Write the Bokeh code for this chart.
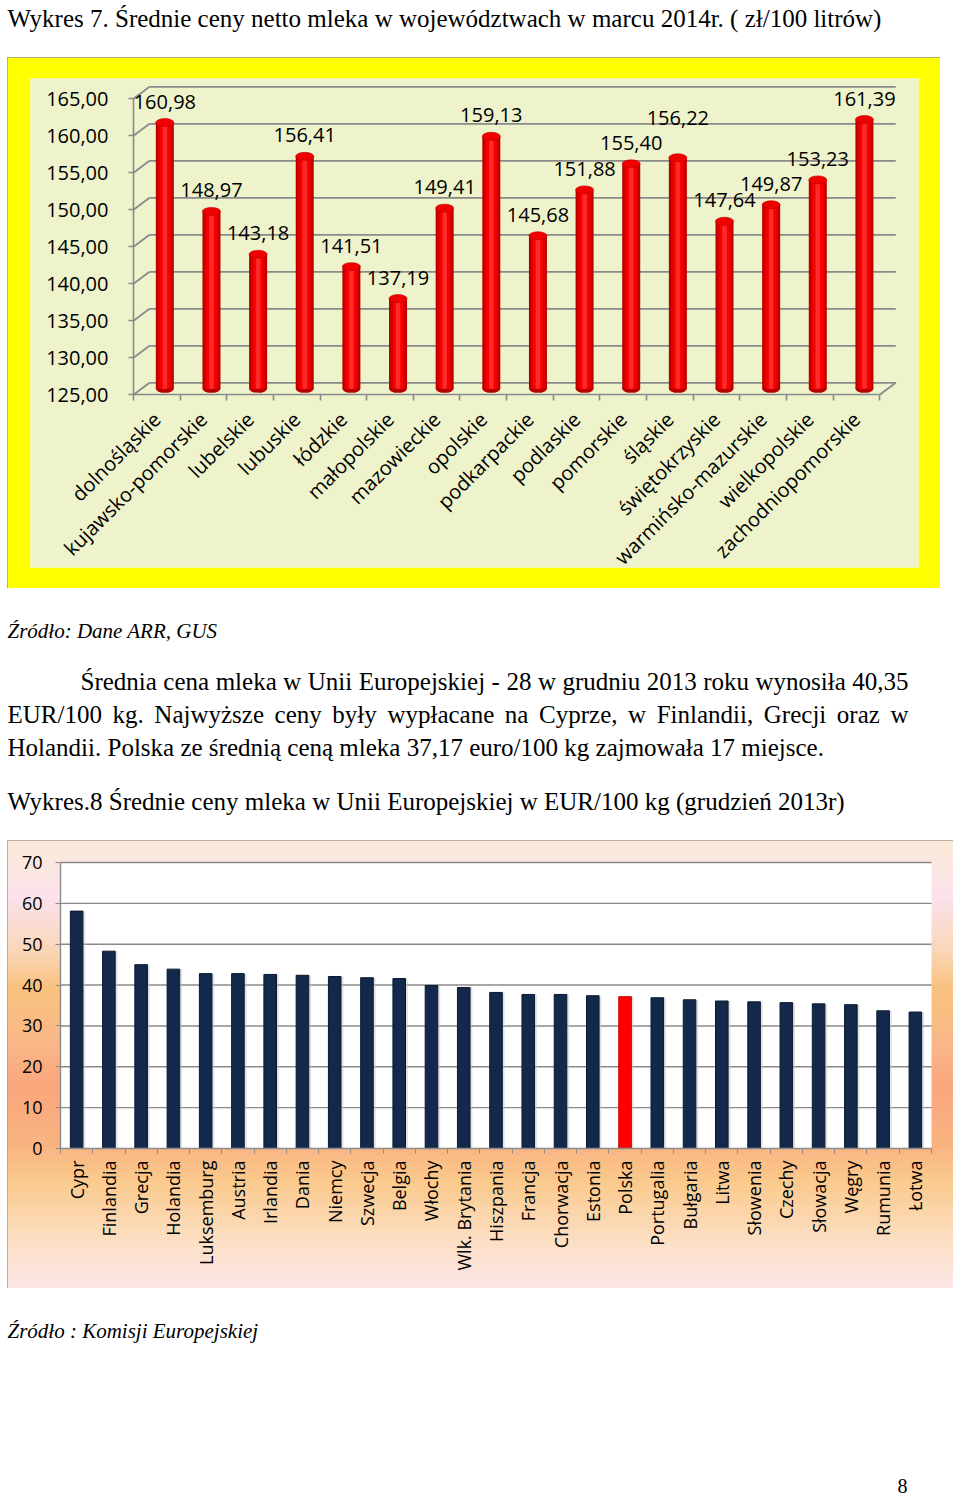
import numpy as np
from math import pi
from bokeh.plotting import figure
from bokeh.models import Range1d, LinearAxis, FixedTicker, Spacer
from bokeh.layouts import column, row
from bokeh.core.properties import value
from bokeh.embed import file_html
from bokeh.resources import INLINE

# ---------------- data ----------------
regions = ["dolnośląskie", "kujawsko-pomorskie", "lubelskie", "lubuskie", "łódzkie",
           "małopolskie", "mazowieckie", "opolskie", "podkarpackie", "podlaskie",
           "pomorskie", "śląskie", "świętokrzyskie", "warmińsko-mazurskie",
           "wielkopolskie", "zachodniopomorskie"]
prices = [160.98, 148.97, 143.18, 156.41, 141.51, 137.19, 149.41, 159.13,
          145.68, 151.88, 155.40, 156.22, 147.64, 149.87, 153.23, 161.39]
price_ticks = [125, 130, 135, 140, 145, 150, 155, 160, 165]

countries = ["Cypr", "Finlandia", "Grecja", "Holandia", "Luksemburg", "Austria",
             "Irlandia", "Dania", "Niemcy", "Szwecja", "Belgia", "Włochy",
             "Wlk. Brytania", "Hiszpania", "Francja", "Chorwacja", "Estonia",
             "Polska", "Portugalia", "Bułgaria", "Litwa", "Słowenia", "Czechy",
             "Słowacja", "Węgry", "Rumunia", "Łotwa"]
eu_prices = [58.1, 48.3, 45.0, 43.9, 42.8, 42.8, 42.6, 42.4, 42.1, 41.8, 41.6,
             39.9, 39.4, 38.2, 37.7, 37.7, 37.4, 37.17, 36.9, 36.4, 36.1, 35.9,
             35.7, 35.4, 35.2, 33.7, 33.4]
eu_ticks = [0, 10, 20, 30, 40, 50, 60, 70]
highlight = "Polska"

title1 = "Wykres 7. Średnie ceny netto mleka w województwach w marcu 2014r. ( zł/100 litrów)"
source1 = "Źródło: Dane ARR, GUS"
para = ["Średnia cena mleka w Unii Europejskiej - 28 w grudniu 2013 roku wynosiła 40,35",
        "EUR/100 kg. Najwyższe ceny były wypłacane na Cyprze, w Finlandii, Grecji oraz w",
        "Holandii. Polska ze średnią ceną mleka 37,17 euro/100 kg zajmowała 17 miejsce."]
title2 = "Wykres.8 Średnie ceny mleka w Unii Europejskiej w EUR/100 kg (grudzień 2013r)"
source2 = "Źródło : Komisji Europejskiej"
page_no = "8"

# ---------------- styles ----------------
SANS = "Open Sans"
SERIF = "Liberation Serif"
GRID = "#8A8A8A"
BODY = 25  # px
label_lift = {"śląskie": 19}   # extra lift (px) of a data label, as in the original

# approximate Times advance widths (1/1000 em) used to justify paragraph lines
_TW = {" ": 250, ".": 250, ",": 250, "-": 333, "/": 278, "(": 333, ")": 333, ":": 278}
_TW.update({c: 500 for c in "0123456789"})
_TW.update(dict(zip("ABCDEFGHIJKLMNOPQRSTUVWXYZ",
                    [722, 667, 667, 722, 611, 556, 722, 722, 333, 389, 722, 611, 889,
                     722, 722, 556, 722, 667, 556, 611, 722, 722, 944, 722, 722, 611])))
_TW.update(dict(zip("abcdefghijklmnopqrstuvwxyz",
                    [444, 500, 444, 500, 444, 333, 500, 500, 278, 278, 500, 278, 778,
                     500, 500, 500, 500, 333, 389, 278, 500, 500, 722, 500, 500, 444])))
_TW.update({"ą": 444, "ę": 444, "ł": 278, "ś": 389, "ż": 444, "ź": 444, "ń": 500,
            "ó": 500, "ć": 444, "Ś": 556, "Ź": 611})


def tw(s, size):
    return sum(_TW.get(ch, 500) for ch in s) * size / 1000.0


def pl(v):
    return f"{v:.2f}".replace(".", ",")


def text_fig(h):
    p = figure(width=960, height=h, x_range=Range1d(0, 960), y_range=Range1d(h, 0),
               x_axis_type=None, y_axis_type=None, output_backend="svg",
               toolbar_location=None, min_border=0, outline_line_color=None,
               background_fill_color="white", border_fill_color="white")
    return p


def put(p, x, y, s, size=BODY, style="normal", align="left"):
    p.text(x=[x], y=[y], text=[s], text_font=value(SERIF), text_font_size=f"{size}px",
           text_font_style=style, text_align=align, text_baseline="middle",
           text_color="black")


def put_justified(p, x_start, x_end, y, s, size=BODY):
    words = s.split(" ")
    widths = [tw(w, size) for w in words]
    gap = (x_end - x_start - sum(widths)) / (len(words) - 1)
    xs, cur = [], x_start
    for w in widths:
        xs.append(cur)
        cur += w + gap
    p.text(x=xs, y=[y] * len(words), text=words, text_font=value(SERIF),
           text_font_size=f"{size}px", text_align="left", text_baseline="middle",
           text_color="black")


# ---------------- title ----------------
top = text_fig(57)
put(top, 7, 18, title1)

# ---------------- chart 1 ----------------
n1 = len(regions)
W1, H1 = 933, 531
BL, BR, BT, BB = 23, 22, 21, 21
FW, FH = W1 - BL - BR, H1 - BT - BB
SX1, SY1 = 46.64, 7.4
x0 = -0.5 - 103 / SX1
x1 = x0 + FW / SX1
ytop = price_ticks[-1] + 20.3 / SY1
ybot = ytop - FH / SY1
DXM, DYM = 8 / SX1, 6 / SY1
DXB, DYB = 16 / SX1, 12 / SY1

c1 = figure(width=W1, height=H1, x_range=Range1d(x0, x1), y_range=Range1d(ybot, ytop),
            x_axis_type=None, y_axis_type=None, output_backend="svg",
            toolbar_location=None, min_border_left=BL, min_border_right=BR,
            min_border_top=BT, min_border_bottom=BB,
            background_fill_color="#EEF3CB", border_fill_color="#FFFF00",
            outline_line_color=None,
            styles={"outline": "1px solid #9C9C9C", "outline-offset": "-1px"})
c1.extra_x_ranges = {"mid": Range1d(x0 - DXM, x1 - DXM), "back": Range1d(x0 - DXB, x1 - DXB)}
c1.extra_y_ranges = {"mid": Range1d(ybot - DYM, ytop - DYM), "back": Range1d(ybot - DYB, ytop - DYB)}

le, re_ = -0.5, n1 - 0.5
base = price_ticks[0]
nt = len(price_ticks)
c1.segment(x0=[le] * nt, x1=[re_] * nt, y0=price_ticks, y1=price_ticks,
           x_range_name="back", y_range_name="back", line_color=GRID, line_width=1.8)
c1.segment(x0=[le] * nt, y0=price_ticks, x1=[le + DXB] * nt,
           y1=[t + DYB for t in price_ticks], line_color=GRID, line_width=1.8)
c1.segment(x0=[re_], y0=[base], x1=[re_ + DXB], y1=[base + DYB],
           line_color=GRID, line_width=1.8)

xs1 = list(range(n1))
mk = dict(x_range_name="mid", y_range_name="mid")
BW = 18 / SX1
c1.ellipse(x=xs1, y=[base] * n1, width=18, height=8, width_units="screen",
           height_units="screen", fill_color="#B80000", line_color=None, **mk)
for frac, col in [(1.0, "#B80000"), (0.8, "#DA0000"), (0.55, "#F80000"), (0.25, "#FF2A2A")]:
    c1.vbar(x=xs1, top=prices, bottom=base, width=BW * frac, fill_color=col,
            line_color=None, **mk)
c1.ellipse(x=xs1, y=prices, width=18, height=8, width_units="screen",
           height_units="screen", fill_color="#F00000", line_color="#C00000",
           line_width=0.6, **mk)
c1.text(x=xs1, y=prices, text=[pl(v) for v in prices],
        y_offset=[-21 - label_lift.get(r, 0) for r in regions],
        text_align="center", text_baseline="middle", text_font=value(SANS),
        text_font_size="20px", text_color="black", **mk)

yax1 = LinearAxis(fixed_location=le, ticker=FixedTicker(ticks=price_ticks),
                  bounds=(price_ticks[0], price_ticks[-1]),
                  major_label_overrides={t: pl(t) for t in price_ticks},
                  axis_line_color=GRID, axis_line_width=1.6,
                  major_tick_line_color=GRID, major_tick_line_width=1.6,
                  major_tick_out=5, major_tick_in=0, minor_tick_line_color=None,
                  major_label_standoff=20, major_label_text_font=SANS,
                  major_label_text_font_size="20px", major_label_text_color="black")
c1.add_layout(yax1, "left")
xtk1 = LinearAxis(fixed_location=base, ticker=FixedTicker(ticks=[i - 0.5 for i in range(n1 + 1)]),
                  bounds=(le, re_), axis_line_color=GRID, axis_line_width=1.6,
                  major_tick_line_color=GRID, major_tick_line_width=1.6,
                  major_tick_out=6, major_tick_in=0, minor_tick_line_color=None,
                  major_label_text_color=None)
c1.add_layout(xtk1, "below")
xlb1 = LinearAxis(fixed_location=base, ticker=FixedTicker(ticks=xs1),
                  major_label_overrides={i: r for i, r in enumerate(regions)},
                  axis_line_color=None, major_tick_line_color=None, major_tick_out=6,
                  minor_tick_line_color=None, major_label_orientation=pi / 4,
                  major_label_standoff=15, major_label_text_font=SANS,
                  major_label_text_font_size="20px", major_label_text_color="black")
c1.add_layout(xlb1, "below")

# ---------------- text between ----------------
mid = text_fig(252)
put(mid, 7, 42, source1, size=21, style="italic")
put_justified(mid, 80, 908, 93, para[0])
put_justified(mid, 7, 908, 126, para[1])
put(mid, 7, 159, para[2])
put(mid, 7, 213, title2)

# ---------------- chart 2 ----------------
n2 = len(countries)
W2, H2 = 946, 448
SX2, SY2 = 871 / n2, 286 / (eu_ticks[-1] - eu_ticks[0])
x20 = -0.5 - 53 / SX2
x21 = x20 + W2 / SX2
y2top = eu_ticks[-1] + 22 / SY2
y2bot = y2top - H2 / SY2

c2 = figure(width=W2, height=H2, x_range=Range1d(x20, x21), y_range=Range1d(y2bot, y2top),
            x_axis_type=None, y_axis_type=None, output_backend="svg",
            toolbar_location=None, min_border=0, outline_line_color="#A0A0A0",
            outline_line_width=2, border_fill_color="white", background_fill_color="white")

stops = [(0.00, "#FCEBD9"), (0.13, "#FBE2EC"), (0.25, "#FAD6B6"), (0.33, "#F9C27E"),
         (0.45, "#F9B888"), (0.55, "#F9A77C"), (0.68, "#FAB482"), (0.76, "#FBCA8D"),
         (0.89, "#FCDFC3"), (1.00, "#FDE7E8")]
fr = np.array([s[0] for s in stops])
cols = np.array([[int(s[1][i:i + 2], 16) for i in (1, 3, 5)] for s in stops])
tt = 1 - (np.arange(H2) + 0.5) / H2
img = np.zeros((H2, 1), dtype=np.uint32)
view = img.view(dtype=np.uint8).reshape((H2, 1, 4))
for k in range(3):
    view[:, 0, k] = np.interp(tt, fr, cols[:, k]).astype(np.uint8)
view[:, 0, 3] = 255
c2.image_rgba(image=[img], x=x20, y=y2bot, dw=x21 - x20, dh=y2top - y2bot)

le2, re2 = -0.5, n2 - 0.5
c2.quad(left=[le2], right=[re2], bottom=[eu_ticks[0]], top=[eu_ticks[-1]],
        fill_color="white", line_color=None)
g = eu_ticks[1:]
c2.segment(x0=[le2] * len(g), x1=[re2] * len(g), y0=g, y1=g, line_color=GRID, line_width=1.4)

xs2 = list(range(n2))
bar_cols = ["#FF0000" if c == highlight else "#13294B" for c in countries]
line_cols = ["#D00000" if c == highlight else "#0A1830" for c in countries]
c2.vbar(x=[x + 0.06 for x in xs2], top=eu_prices, bottom=0, width=0.42,
        fill_color="#C8C8C8", fill_alpha=0.5, line_color=None)
c2.vbar(x=xs2, top=eu_prices, bottom=0, width=0.39, fill_color=bar_cols,
        line_color=line_cols, line_width=1)

yax2 = LinearAxis(fixed_location=le2, ticker=FixedTicker(ticks=eu_ticks),
                  bounds=(eu_ticks[0], eu_ticks[-1]),
                  axis_line_color=GRID, axis_line_width=1.4,
                  major_tick_line_color=GRID, major_tick_out=5, major_tick_in=0,
                  minor_tick_line_color=None, major_label_standoff=13,
                  major_label_text_font=SANS, major_label_text_font_size="18px",
                  major_label_text_color="black")
c2.add_layout(yax2, "left")
xtk2 = LinearAxis(fixed_location=eu_ticks[0], ticker=FixedTicker(ticks=[i - 0.5 for i in range(n2 + 1)]),
                  bounds=(le2, re2), axis_line_color=GRID, axis_line_width=1.4,
                  major_tick_line_color=GRID, major_tick_out=5, major_tick_in=0,
                  minor_tick_line_color=None, major_label_text_color=None)
c2.add_layout(xtk2, "below")
xlb2 = LinearAxis(fixed_location=eu_ticks[0], ticker=FixedTicker(ticks=xs2),
                  major_label_overrides={i: c for i, c in enumerate(countries)},
                  axis_line_color=None, major_tick_line_color=None, major_tick_out=5,
                  minor_tick_line_color=None, major_label_orientation=pi / 2,
                  major_label_standoff=7, major_label_text_font=SANS,
                  major_label_text_font_size="18px", major_label_text_color="black")
c2.add_layout(xlb2, "below")

# ---------------- bottom ----------------
bot = text_fig(210)
put(bot, 7, 42, source2, size=21, style="italic")
put(bot, 902, 197, page_no, size=20, align="center")

layout = column(top,
                row(Spacer(width=7, height=H1), c1),
                mid,
                row(Spacer(width=7, height=H2), c2),
                bot)

open("out.html", "w").write(file_html(layout, INLINE))
